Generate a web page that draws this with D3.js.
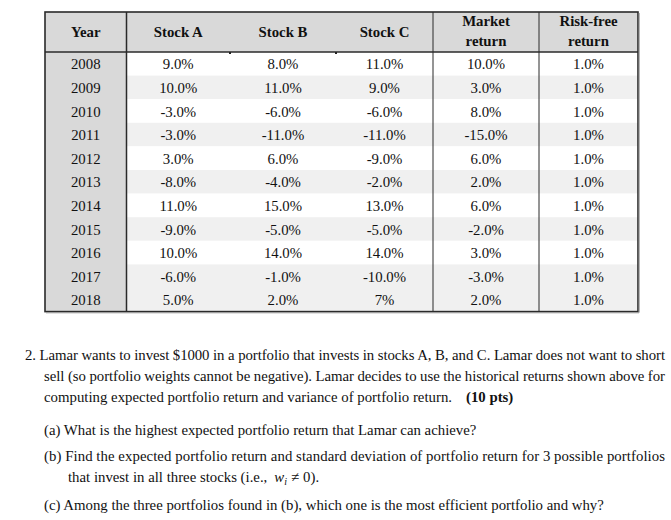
<!DOCTYPE html>
<html><head><meta charset="utf-8">
<script src="https://cdn.jsdelivr.net/npm/d3@7"></script>
<style>body{margin:0;background:#fff}svg{display:block}</style>
</head><body>
<script>
const years = [2008,2009,2010,2011,2012,2013,2014,2015,2016,2017,2018];
const stockA = ["9.0%","10.0%","-3.0%","-3.0%","3.0%","-8.0%","11.0%","-9.0%","10.0%","-6.0%","5.0%"];
const stockB = ["8.0%","11.0%","-6.0%","-11.0%","6.0%","-4.0%","15.0%","-5.0%","14.0%","-1.0%","2.0%"];
const stockC = ["11.0%","9.0%","-6.0%","-11.0%","-9.0%","-2.0%","13.0%","-5.0%","14.0%","-10.0%","7%"];
const market = ["10.0%","3.0%","8.0%","-15.0%","6.0%","2.0%","6.0%","-2.0%","3.0%","-3.0%","2.0%"];
const riskFree = ["1.0%","1.0%","1.0%","1.0%","1.0%","1.0%","1.0%","1.0%","1.0%","1.0%","1.0%"];
const headers = [["Year"],["Stock A"],["Stock B"],["Stock C"],["Market","return"],["Risk-free","return"]];
const columns = [years.map(String), stockA, stockB, stockC, market, riskFree];

const W = 671, H = 520;
const svg = d3.select("body").append("svg").attr("width", W).attr("height", H);
const font = "'Liberation Serif','Times New Roman',serif";

const tableL = 45, tableR = 638, tableT = 12, headB = 52, tableB = 311.6;
const colEdges = [45, 126.5, 230, 336, 433, 539, 638];
const x = d3.scaleOrdinal().domain(d3.range(6)).range(d3.range(6).map(i => (colEdges[i] + colEdges[i+1]) / 2));
const y = d3.scaleBand().domain(years).range([headB, tableB]);

svg.append("rect").attr("x", tableL).attr("y", tableT).attr("width", tableR - tableL).attr("height", headB - tableT).attr("fill", "#d9d9d9");
svg.selectAll("rect.row").data(years).join("rect")
  .attr("x", colEdges[1]).attr("y", d => y(d)).attr("width", tableR - colEdges[1]).attr("height", y.bandwidth())
  .attr("fill", (d, i) => (i % 2 === 1 || i === years.length - 1) ? "#f0f0f0" : "#ffffff");
svg.append("rect").attr("x", tableL).attr("y", headB).attr("width", colEdges[1] - tableL).attr("height", tableB - headB).attr("fill", "#d9d9d9");

headers.forEach((h, i) => {
  const t = svg.append("text").attr("x", x(i)).attr("text-anchor", "middle")
    .attr("font-family", font).attr("font-weight", "bold").attr("font-size", 14.8).attr("fill", "#111");
  if (h.length === 1) t.attr("y", 36.5).text(h[0]);
  else { t.append("tspan").attr("x", x(i)).attr("y", 25.5).text(h[0]); t.append("tspan").attr("x", x(i)).attr("y", 46).text(h[1]); }
});

columns.forEach((col, ci) => {
  svg.selectAll(null).data(col).join("text")
    .attr("x", x(ci)).attr("y", (d, ri) => y(years[ri]) + y.bandwidth() / 2 + 5.5)
    .attr("text-anchor", "middle").attr("font-family", font).attr("font-size", 14.8).attr("fill", "#111")
    .text(d => d);
});

const line = (x1, y1, x2, y2, w) => svg.append("line").attr("x1", x1).attr("y1", y1).attr("x2", x2).attr("y2", y2).attr("stroke", "#2a2a2a").attr("stroke-width", w);
line(colEdges[1], tableT, colEdges[1], tableB, 1.5);
line(colEdges[4], tableT, colEdges[4], tableB, 1);
line(colEdges[5], tableT, colEdges[5], tableB, 1);
line(tableL, headB, tableR, headB, 1.5);
[colEdges[2], colEdges[3]].forEach(cx => svg.append("rect").attr("x", cx - 1).attr("y", headB).attr("width", 2).attr("height", 2).attr("fill", "#222"));
svg.append("rect").attr("x", tableL).attr("y", tableT).attr("width", tableR - tableL).attr("height", tableB - tableT)
  .attr("fill", "none").attr("stroke", "#2a2a2a").attr("stroke-width", 1.6);
line(tableL + 1, tableB + 1.2, tableR + 1, tableB + 1.2, 1).attr("stroke", "#999");
line(tableR + 1.2, tableT + 1, tableR + 1.2, tableB + 1, 1).attr("stroke", "#999");

const q = (x0, yy, s, len) => {
  const t = svg.append("text").attr("x", x0).attr("y", yy).attr("font-family", font).attr("font-size", 14.8).attr("fill", "#111");
  if (len) t.attr("textLength", len).attr("lengthAdjust", "spacing");
  if (typeof s === "string") t.text(s); else s(t);
  return t;
};
q(25, 360, "2. Lamar wants to invest $1000 in a portfolio that invests in stocks A, B, and C. Lamar does not want to short", 640);
q(44, 381, "sell (so portfolio weights cannot be negative). Lamar decides to use the historical returns shown above for", 621);
q(44, 402, "computing expected portfolio return and variance of portfolio return.", 408);
q(466, 402, "(10 pts)").attr("font-weight", "bold");
q(44, 435, "(a)  What is the highest expected portfolio return that Lamar can achieve?");
q(44, 461, "(b)  Find the expected portfolio return and standard deviation of portfolio return for 3 possible portfolios", 621);
q(68, 482, t => {
  t.append("tspan").text("that invest in all three stocks (i.e.,");
  t.append("tspan").attr("dx", 7).attr("font-style", "italic").text("w");
  t.append("tspan").attr("font-size", 10).attr("font-style", "italic").attr("dy", 3).text("i");
  t.append("tspan").attr("dx", 4).attr("dy", -3).text("\u2260");
  t.append("tspan").attr("dx", 4).text("0).");
});
q(44, 510, "(c)  Among the three portfolios found in (b), which one is the most efficient portfolio and why?");
</script>
</body></html>
